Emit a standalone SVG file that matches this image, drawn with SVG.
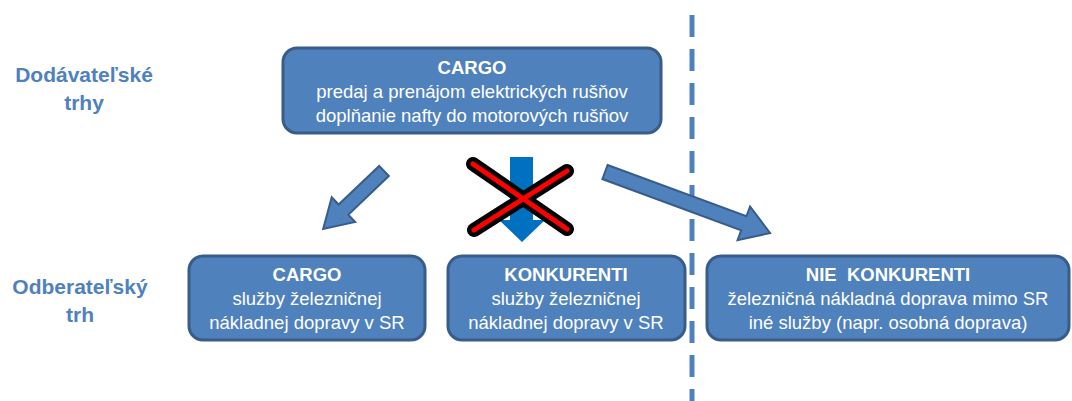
<svg xmlns="http://www.w3.org/2000/svg" width="1072" height="401" viewBox="0 0 1072 401">
<style>
.box{fill:#4F81BD;stroke:#385D8A;stroke-width:3}
.t{font-family:"Liberation Sans",Arial,sans-serif;font-size:18.5px;fill:#fff;text-anchor:middle;white-space:pre}
.b{font-weight:bold}
.lab{font-family:"Liberation Sans",Arial,sans-serif;font-size:21px;font-weight:bold;fill:#4F81BD;text-anchor:middle}
.arr{fill:#4F81BD;stroke:#385D8A;stroke-width:2;stroke-linejoin:miter}
</style>
<rect width="1072" height="401" fill="#fff"/>
<g id="labels">
<text class="lab" x="84" y="82">Dodávateľské</text>
<text class="lab" x="84" y="110">trhy</text>
<text class="lab" x="80" y="294">Odberateľský</text>
<text class="lab" x="80" y="322">trh</text>
</g>
<g id="divider">
<line x1="692" y1="15" x2="692" y2="401" stroke="#4F81BD" stroke-width="5" stroke-dasharray="22 12"/>
</g>
<g id="node-cargo-top">
<rect class="box" x="283" y="48" width="378" height="85" rx="14"/>
<text class="t b" x="472" y="74">CARGO</text>
<text class="t" x="472" y="98">predaj a prenájom elektrických rušňov</text>
<text class="t" x="472" y="122">doplňanie nafty do motorových rušňov</text>
</g>
<g id="node-cargo">
<rect class="box" x="189" y="256" width="236" height="84" rx="14"/>
<text class="t b" x="307" y="281">CARGO</text>
<text class="t" x="307" y="305">služby železničnej</text>
<text class="t" x="307" y="329">nákladnej dopravy v SR</text>
</g>
<g id="node-konkurenti">
<rect class="box" x="448" y="256" width="237" height="84" rx="14"/>
<text class="t b" x="566" y="281">KONKURENTI</text>
<text class="t" x="566" y="305">služby železničnej</text>
<text class="t" x="566" y="329">nákladnej dopravy v SR</text>
</g>
<g id="node-nie-konkurenti">
<rect class="box" x="707" y="256" width="362" height="84" rx="14"/>
<text class="t b" x="888" y="281">NIE  KONKURENTI</text>
<text class="t" x="888" y="305">železničná nákladná doprava mimo SR</text>
<text class="t" x="888" y="329">iné služby (napr. osobná doprava)</text>
</g>
<g id="connectors">
<path class="arr" transform="translate(384,171) rotate(136.4)" d="M0,-7 L56,-7 L56,-17 L84,0 L56,17 L56,7 L0,7 Z"/>
<path class="arr" transform="translate(605,172) rotate(20.3)" d="M0,-7.5 L148,-7.5 L148,-18 L176,0 L148,18 L148,7.5 L0,7.5 Z"/>
<path fill="#0070C0" d="M510,157 L533,157 L533,220 L545,220 L522,242 L499,220 L510,220 Z"/>
<g stroke-linecap="round">
<line x1="473" y1="164" x2="567" y2="229" stroke="#000" stroke-width="14"/>
<line x1="567" y1="171" x2="474" y2="230" stroke="#000" stroke-width="14"/>
<line x1="473" y1="164" x2="567" y2="229" stroke="#FF0000" stroke-width="5"/>
<line x1="567" y1="171" x2="474" y2="230" stroke="#FF0000" stroke-width="5"/>
</g>
</g>
</svg>
